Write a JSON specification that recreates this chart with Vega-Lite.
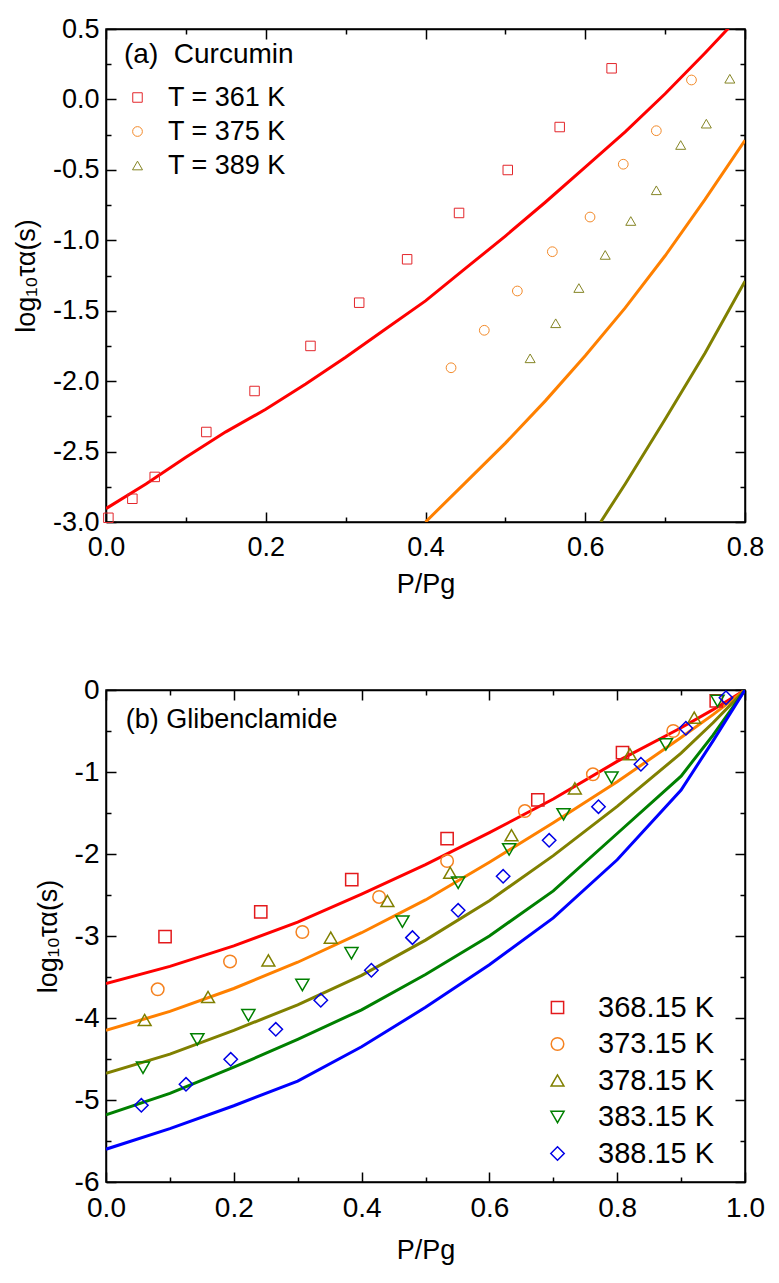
{
  "$schema": "https://vega.github.io/schema/vega-lite/v6.json",
  "background": "white",
  "padding": {"left": 11, "top": 14, "right": 5, "bottom": 5},
  "spacing": 77,
  "resolve": {"scale": {"color": "independent", "shape": "independent", "size": "independent"}},
  "datasets": {
    "fitA": [
      {"T": "T = 361 K", "x": 0, "y": -2.905}, {"T": "T = 361 K", "x": 0.05, "y": -2.73}, {"T": "T = 361 K", "x": 0.1, "y": -2.54},
      {"T": "T = 361 K", "x": 0.15, "y": -2.36}, {"T": "T = 361 K", "x": 0.2, "y": -2.2}, {"T": "T = 361 K", "x": 0.25, "y": -2.02},
      {"T": "T = 361 K", "x": 0.3, "y": -1.83}, {"T": "T = 361 K", "x": 0.35, "y": -1.63}, {"T": "T = 361 K", "x": 0.4, "y": -1.43},
      {"T": "T = 361 K", "x": 0.45, "y": -1.2}, {"T": "T = 361 K", "x": 0.5, "y": -0.97}, {"T": "T = 361 K", "x": 0.55, "y": -0.73},
      {"T": "T = 361 K", "x": 0.6, "y": -0.48}, {"T": "T = 361 K", "x": 0.65, "y": -0.23}, {"T": "T = 361 K", "x": 0.7, "y": 0.04},
      {"T": "T = 361 K", "x": 0.75, "y": 0.33}, {"T": "T = 361 K", "x": 0.78, "y": 0.51},
      {"T": "T = 375 K", "x": 0.4, "y": -3.0}, {"T": "T = 375 K", "x": 0.45, "y": -2.72}, {"T": "T = 375 K", "x": 0.5, "y": -2.44},
      {"T": "T = 375 K", "x": 0.55, "y": -2.14}, {"T": "T = 375 K", "x": 0.6, "y": -1.82}, {"T": "T = 375 K", "x": 0.65, "y": -1.48},
      {"T": "T = 375 K", "x": 0.7, "y": -1.11}, {"T": "T = 375 K", "x": 0.75, "y": -0.71}, {"T": "T = 375 K", "x": 0.8, "y": -0.29},
      {"T": "T = 389 K", "x": 0.6193, "y": -3.0}, {"T": "T = 389 K", "x": 0.65, "y": -2.73}, {"T": "T = 389 K", "x": 0.7, "y": -2.27},
      {"T": "T = 389 K", "x": 0.75, "y": -1.8}, {"T": "T = 389 K", "x": 0.8, "y": -1.29}
    ],
    "ptsA": [
      {"T": "T = 361 K", "x": 0.003, "y": -2.97}, {"T": "T = 361 K", "x": 0.033, "y": -2.835}, {"T": "T = 361 K", "x": 0.061, "y": -2.68},
      {"T": "T = 361 K", "x": 0.1256, "y": -2.361}, {"T": "T = 361 K", "x": 0.186, "y": -2.07}, {"T": "T = 361 K", "x": 0.256, "y": -1.75},
      {"T": "T = 361 K", "x": 0.317, "y": -1.443}, {"T": "T = 361 K", "x": 0.377, "y": -1.135}, {"T": "T = 361 K", "x": 0.442, "y": -0.806},
      {"T": "T = 361 K", "x": 0.503, "y": -0.501}, {"T": "T = 361 K", "x": 0.568, "y": -0.196}, {"T": "T = 361 K", "x": 0.633, "y": 0.221},
      {"T": "T = 375 K", "x": 0.432, "y": -1.905}, {"T": "T = 375 K", "x": 0.4736, "y": -1.639}, {"T": "T = 375 K", "x": 0.515, "y": -1.36},
      {"T": "T = 375 K", "x": 0.5588, "y": -1.081}, {"T": "T = 375 K", "x": 0.606, "y": -0.835}, {"T": "T = 375 K", "x": 0.6476, "y": -0.46},
      {"T": "T = 375 K", "x": 0.689, "y": -0.222}, {"T": "T = 375 K", "x": 0.733, "y": 0.138},
      {"T": "T = 389 K", "x": 0.531, "y": -1.838}, {"T": "T = 389 K", "x": 0.563, "y": -1.589}, {"T": "T = 389 K", "x": 0.592, "y": -1.339},
      {"T": "T = 389 K", "x": 0.625, "y": -1.104}, {"T": "T = 389 K", "x": 0.657, "y": -0.863}, {"T": "T = 389 K", "x": 0.689, "y": -0.645},
      {"T": "T = 389 K", "x": 0.7195, "y": -0.3235}, {"T": "T = 389 K", "x": 0.7516, "y": -0.172}, {"T": "T = 389 K", "x": 0.781, "y": 0.147}
    ],
    "fitB": [
      {"T": "368.15 K", "x": 0, "y": -3.58}, {"T": "368.15 K", "x": 0.1, "y": -3.37}, {"T": "368.15 K", "x": 0.2, "y": -3.12},
      {"T": "368.15 K", "x": 0.3, "y": -2.83}, {"T": "368.15 K", "x": 0.4, "y": -2.49}, {"T": "368.15 K", "x": 0.5, "y": -2.13},
      {"T": "368.15 K", "x": 0.6, "y": -1.74}, {"T": "368.15 K", "x": 0.7, "y": -1.33}, {"T": "368.15 K", "x": 0.8, "y": -0.87},
      {"T": "368.15 K", "x": 0.9, "y": -0.46}, {"T": "368.15 K", "x": 0.95, "y": -0.24}, {"T": "368.15 K", "x": 1.0, "y": 0},
      {"T": "373.15 K", "x": 0, "y": -4.15}, {"T": "373.15 K", "x": 0.1, "y": -3.92}, {"T": "373.15 K", "x": 0.2, "y": -3.64},
      {"T": "373.15 K", "x": 0.3, "y": -3.32}, {"T": "373.15 K", "x": 0.4, "y": -2.96}, {"T": "373.15 K", "x": 0.5, "y": -2.56},
      {"T": "373.15 K", "x": 0.6, "y": -2.1}, {"T": "373.15 K", "x": 0.7, "y": -1.62}, {"T": "373.15 K", "x": 0.8, "y": -1.12},
      {"T": "373.15 K", "x": 0.9, "y": -0.58}, {"T": "373.15 K", "x": 0.95, "y": -0.3}, {"T": "373.15 K", "x": 1.0, "y": 0},
      {"T": "378.15 K", "x": 0, "y": -4.675}, {"T": "378.15 K", "x": 0.1, "y": -4.44}, {"T": "378.15 K", "x": 0.2, "y": -4.15},
      {"T": "378.15 K", "x": 0.3, "y": -3.84}, {"T": "378.15 K", "x": 0.4, "y": -3.48}, {"T": "378.15 K", "x": 0.5, "y": -3.05},
      {"T": "378.15 K", "x": 0.6, "y": -2.57}, {"T": "378.15 K", "x": 0.7, "y": -2.02}, {"T": "378.15 K", "x": 0.8, "y": -1.42},
      {"T": "378.15 K", "x": 0.9, "y": -0.77}, {"T": "378.15 K", "x": 0.95, "y": -0.4}, {"T": "378.15 K", "x": 1.0, "y": 0},
      {"T": "383.15 K", "x": 0, "y": -5.18}, {"T": "383.15 K", "x": 0.1, "y": -4.92}, {"T": "383.15 K", "x": 0.2, "y": -4.6},
      {"T": "383.15 K", "x": 0.3, "y": -4.26}, {"T": "383.15 K", "x": 0.4, "y": -3.9}, {"T": "383.15 K", "x": 0.5, "y": -3.47},
      {"T": "383.15 K", "x": 0.6, "y": -3.0}, {"T": "383.15 K", "x": 0.7, "y": -2.45}, {"T": "383.15 K", "x": 0.8, "y": -1.75},
      {"T": "383.15 K", "x": 0.9, "y": -1.05}, {"T": "383.15 K", "x": 0.95, "y": -0.55}, {"T": "383.15 K", "x": 1.0, "y": 0},
      {"T": "388.15 K", "x": 0, "y": -5.6}, {"T": "388.15 K", "x": 0.1, "y": -5.35}, {"T": "388.15 K", "x": 0.2, "y": -5.07},
      {"T": "388.15 K", "x": 0.3, "y": -4.77}, {"T": "388.15 K", "x": 0.4, "y": -4.35}, {"T": "388.15 K", "x": 0.5, "y": -3.87},
      {"T": "388.15 K", "x": 0.6, "y": -3.35}, {"T": "388.15 K", "x": 0.7, "y": -2.78}, {"T": "388.15 K", "x": 0.8, "y": -2.07},
      {"T": "388.15 K", "x": 0.9, "y": -1.22}, {"T": "388.15 K", "x": 0.95, "y": -0.62}, {"T": "388.15 K", "x": 1.0, "y": 0}
    ],
    "ptsB": [
      {"T": "368.15 K", "x": 0.0924, "y": -3.008}, {"T": "368.15 K", "x": 0.2422, "y": -2.707}, {"T": "368.15 K", "x": 0.3846, "y": -2.313},
      {"T": "368.15 K", "x": 0.5338, "y": -1.813}, {"T": "368.15 K", "x": 0.6758, "y": -1.341}, {"T": "368.15 K", "x": 0.8083, "y": -0.764},
      {"T": "368.15 K", "x": 0.955, "y": -0.134},
      {"T": "373.15 K", "x": 0.0809, "y": -3.65}, {"T": "373.15 K", "x": 0.1941, "y": -3.31}, {"T": "373.15 K", "x": 0.3073, "y": -2.951},
      {"T": "373.15 K", "x": 0.4274, "y": -2.524}, {"T": "373.15 K", "x": 0.5338, "y": -2.085}, {"T": "373.15 K", "x": 0.6555, "y": -1.476},
      {"T": "373.15 K", "x": 0.762, "y": -1.028}, {"T": "373.15 K", "x": 0.8877, "y": -0.5},
      {"T": "378.15 K", "x": 0.0605, "y": -4.024}, {"T": "378.15 K", "x": 0.1597, "y": -3.744}, {"T": "378.15 K", "x": 0.2541, "y": -3.297},
      {"T": "378.15 K", "x": 0.3517, "y": -3.02}, {"T": "378.15 K", "x": 0.4404, "y": -2.573}, {"T": "378.15 K", "x": 0.5386, "y": -2.228},
      {"T": "378.15 K", "x": 0.6346, "y": -1.772}, {"T": "378.15 K", "x": 0.7337, "y": -1.2}, {"T": "378.15 K", "x": 0.8199, "y": -0.784},
      {"T": "378.15 K", "x": 0.9205, "y": -0.337},
      {"T": "383.15 K", "x": 0.0579, "y": -4.606}, {"T": "383.15 K", "x": 0.143, "y": -4.26}, {"T": "383.15 K", "x": 0.2228, "y": -3.967},
      {"T": "383.15 K", "x": 0.3073, "y": -3.598}, {"T": "383.15 K", "x": 0.3841, "y": -3.211}, {"T": "383.15 K", "x": 0.4639, "y": -2.824},
      {"T": "383.15 K", "x": 0.5511, "y": -2.35}, {"T": "383.15 K", "x": 0.6309, "y": -1.943}, {"T": "383.15 K", "x": 0.716, "y": -1.516},
      {"T": "383.15 K", "x": 0.7911, "y": -1.069}, {"T": "383.15 K", "x": 0.8762, "y": -0.663}, {"T": "383.15 K", "x": 0.957, "y": -0.134},
      {"T": "388.15 K", "x": 0.0553, "y": -5.065}, {"T": "388.15 K", "x": 0.1252, "y": -4.809}, {"T": "388.15 K", "x": 0.1952, "y": -4.504},
      {"T": "388.15 K", "x": 0.2657, "y": -4.138}, {"T": "388.15 K", "x": 0.3361, "y": -3.784}, {"T": "388.15 K", "x": 0.4153, "y": -3.418},
      {"T": "388.15 K", "x": 0.4796, "y": -3.02}, {"T": "388.15 K", "x": 0.5511, "y": -2.687}, {"T": "388.15 K", "x": 0.6215, "y": -2.272},
      {"T": "388.15 K", "x": 0.6935, "y": -1.833}, {"T": "388.15 K", "x": 0.7707, "y": -1.423}, {"T": "388.15 K", "x": 0.8371, "y": -0.906},
      {"T": "388.15 K", "x": 0.9075, "y": -0.467}, {"T": "388.15 K", "x": 0.9702, "y": -0.094}
    ],
    "labelB": [{"label": "(b) Glibenclamide"}]
  },
  "vconcat": [
    {
      "width": 639,
      "height": 493,
      "layer": [
        {
          "data": {"name": "fitA"},
          "mark": {"type": "line", "strokeWidth": 3, "clip": true},
          "encoding": {
            "x": {
              "field": "x", "type": "quantitative",
              "scale": {"domain": [0, 0.8], "nice": false, "zero": false},
              "axis": {
                "orient": "bottom",
                "values": [0, 0.1, 0.2, 0.3, 0.4, 0.5, 0.6, 0.7, 0.8],
                "tickSize": {"condition": {"test": "abs(datum.value*5-round(datum.value*5))<0.001", "value": -10}, "value": -5},
                "labelExpr": "abs(datum.value*5-round(datum.value*5))<0.001 ? format(datum.value,'.1f') : ''",
                "labelPadding": 22,
                "title": "P/Pg",
                "titlePadding": 6
              }
            },
            "y": {
              "field": "y", "type": "quantitative",
              "scale": {"domain": [-3, 0.5], "nice": false, "zero": false},
              "axis": {
                "orient": "left",
                "values": [-3, -2.75, -2.5, -2.25, -2, -1.75, -1.5, -1.25, -1, -0.75, -0.5, -0.25, 0, 0.25, 0.5],
                "tickSize": {"condition": {"test": "abs(datum.value*2-round(datum.value*2))<0.001", "value": -10}, "value": -5},
                "labelExpr": "abs(datum.value*2-round(datum.value*2))<0.001 ? replace(format(datum.value,'.1f'),'−','-') : ''",
                "labelPadding": 17,
                "title": "log₁₀τα(s)",
                "titlePadding": 12
              }
            },
            "color": {
              "field": "T", "type": "nominal",
              "scale": {"domain": ["T = 361 K", "T = 375 K", "T = 389 K"], "range": ["#FF0000", "#FF8000", "#808000"]},
              "legend": null
            }
          }
        },
        {
          "data": {"name": "ptsA"},
          "mark": {"type": "point", "filled": false, "strokeWidth": 1, "opacity": 1},
          "encoding": {
            "x": {
              "field": "x", "type": "quantitative",
              "axis": {
                "orient": "top",
                "values": [0, 0.1, 0.2, 0.3, 0.4, 0.5, 0.6, 0.7, 0.8],
                "tickSize": {"condition": {"test": "abs(datum.value*5-round(datum.value*5))<0.001", "value": -10}, "value": -5},
                "labels": false,
                "title": null
              }
            },
            "y": {
              "field": "y", "type": "quantitative",
              "axis": {
                "orient": "right",
                "values": [-3, -2.75, -2.5, -2.25, -2, -1.75, -1.5, -1.25, -1, -0.75, -0.5, -0.25, 0, 0.25, 0.5],
                "tickSize": {"condition": {"test": "abs(datum.value*2-round(datum.value*2))<0.001", "value": -10}, "value": -5},
                "labels": false,
                "title": null
              }
            },
            "color": {
              "field": "T", "type": "nominal",
              "scale": {"domain": ["T = 361 K", "T = 375 K", "T = 389 K"], "range": ["#E3262B", "#F38A2A", "#858525"]},
              "legend": {"title": "(a)\u00a0 Curcumin", "orient": "none", "legendX": 18, "legendY": 12, "padding": 0, "titleFontSize": 28, "titleFontWeight": "normal", "titleColor": "black", "labelFontSize": 27, "labelColor": "black", "symbolStrokeWidth": 1, "rowPadding": 6, "labelOffset": 17, "titlePadding": 15, "symbolOffset": 0}
            },
            "shape": {
              "field": "T", "type": "nominal",
              "scale": {"domain": ["T = 361 K", "T = 375 K", "T = 389 K"], "range": ["square", "circle", "triangle-up"]},
              "legend": {"title": "(a)\u00a0 Curcumin", "orient": "none", "legendX": 18, "legendY": 12, "padding": 0, "titleFontSize": 28, "titleFontWeight": "normal", "titleColor": "black", "labelFontSize": 27, "labelColor": "black", "symbolStrokeWidth": 1, "rowPadding": 6, "labelOffset": 17, "titlePadding": 15, "symbolOffset": 0}
            },
            "size": {
              "field": "T", "type": "nominal",
              "scale": {"domain": ["T = 361 K", "T = 375 K", "T = 389 K"], "range": [90, 100, 150]},
              "legend": {"title": "(a)\u00a0 Curcumin", "orient": "none", "legendX": 18, "legendY": 12, "padding": 0, "titleFontSize": 28, "titleFontWeight": "normal", "titleColor": "black", "labelFontSize": 27, "labelColor": "black", "symbolStrokeWidth": 1, "rowPadding": 6, "labelOffset": 17, "titlePadding": 15, "symbolOffset": 0}
            }
          }
        }
      ],
      "resolve": {"axis": {"x": "independent", "y": "independent"}, "scale": {"color": "independent", "shape": "independent", "size": "independent"}}
    },
    {
      "width": 639,
      "height": 492,
      "layer": [
        {
          "data": {"name": "fitB"},
          "mark": {"type": "line", "strokeWidth": 3, "clip": true},
          "encoding": {
            "x": {
              "field": "x", "type": "quantitative",
              "scale": {"domain": [0, 1], "nice": false, "zero": false},
              "axis": {
                "orient": "bottom",
                "values": [0, 0.1, 0.2, 0.3, 0.4, 0.5, 0.6, 0.7, 0.8, 0.9, 1.0],
                "tickSize": {"condition": {"test": "abs(datum.value*5-round(datum.value*5))<0.001", "value": -10}, "value": -5},
                "labelExpr": "abs(datum.value*5-round(datum.value*5))<0.001 ? format(datum.value,'.1f') : ''",
                "labelPadding": 22,
                "labelFontSize": 28,
                "title": "P/Pg",
                "titlePadding": 10
              }
            },
            "y": {
              "field": "y", "type": "quantitative",
              "scale": {"domain": [-6, 0], "nice": false, "zero": false},
              "axis": {
                "orient": "left",
                "values": [-6, -5.5, -5, -4.5, -4, -3.5, -3, -2.5, -2, -1.5, -1, -0.5, 0],
                "tickSize": {"condition": {"test": "abs(datum.value-round(datum.value))<0.001", "value": -10}, "value": -5},
                "labelExpr": "abs(datum.value-round(datum.value))<0.001 ? replace(format(datum.value,'d'),'−','-') : ''",
                "labelPadding": 17,
                "labelFontSize": 28,
                "title": "log₁₀τα(s)",
                "titlePadding": 12
              }
            },
            "color": {
              "field": "T", "type": "nominal",
              "scale": {"domain": ["368.15 K", "373.15 K", "378.15 K", "383.15 K", "388.15 K"], "range": ["#FF0000", "#FF8000", "#808000", "#008000", "#0000FF"]},
              "legend": null
            }
          }
        },
        {
          "data": {"name": "ptsB"},
          "mark": {"type": "point", "filled": false, "strokeWidth": 1.5, "opacity": 1},
          "encoding": {
            "x": {
              "field": "x", "type": "quantitative",
              "axis": {
                "orient": "top",
                "values": [0, 0.1, 0.2, 0.3, 0.4, 0.5, 0.6, 0.7, 0.8, 0.9, 1.0],
                "tickSize": {"condition": {"test": "abs(datum.value*5-round(datum.value*5))<0.001", "value": -10}, "value": -5},
                "labels": false,
                "title": null
              }
            },
            "y": {
              "field": "y", "type": "quantitative",
              "axis": {
                "orient": "right",
                "values": [-6, -5.5, -5, -4.5, -4, -3.5, -3, -2.5, -2, -1.5, -1, -0.5, 0],
                "tickSize": {"condition": {"test": "abs(datum.value-round(datum.value))<0.001", "value": -10}, "value": -5},
                "labels": false,
                "title": null
              }
            },
            "color": {
              "field": "T", "type": "nominal",
              "scale": {"domain": ["368.15 K", "373.15 K", "378.15 K", "383.15 K", "388.15 K"], "range": ["#E31A1C", "#F58220", "#808000", "#008000", "#0000E6"]},
              "legend": {"title": null, "orient": "none", "legendX": 437, "legendY": 303, "padding": 0, "labelFontSize": 29, "labelColor": "black", "symbolStrokeWidth": 1.5, "rowPadding": 6.5, "labelOffset": 26}
            },
            "shape": {
              "field": "T", "type": "nominal",
              "scale": {"domain": ["368.15 K", "373.15 K", "378.15 K", "383.15 K", "388.15 K"], "range": ["square", "circle", "triangle-up", "triangle-down", "diamond"]},
              "legend": {"title": null, "orient": "none", "legendX": 437, "legendY": 303, "padding": 0, "labelFontSize": 29, "labelColor": "black", "symbolStrokeWidth": 1.5, "rowPadding": 6.5, "labelOffset": 26}
            },
            "size": {
              "field": "T", "type": "nominal",
              "scale": {"domain": ["368.15 K", "373.15 K", "378.15 K", "383.15 K", "388.15 K"], "range": [150, 180, 230, 230, 240]},
              "legend": {"title": null, "orient": "none", "legendX": 437, "legendY": 303, "padding": 0, "labelFontSize": 29, "labelColor": "black", "symbolStrokeWidth": 1.5, "rowPadding": 6.5, "labelOffset": 26}
            }
          }
        },
        {
          "data": {"name": "labelB"},
          "mark": {"type": "text", "align": "left", "baseline": "middle", "fontSize": 27, "color": "black"},
          "encoding": {
            "x": {"datum": 0.031, "type": "quantitative", "axis": null},
            "y": {"datum": -0.366, "type": "quantitative", "axis": null},
            "text": {"field": "label", "type": "nominal"}
          }
        }
      ],
      "resolve": {"axis": {"x": "independent", "y": "independent"}, "scale": {"color": "independent", "shape": "independent", "size": "independent"}}
    }
  ],
  "config": {
    "font": "Liberation Sans",
    "view": {"stroke": "black", "strokeWidth": 1.5},
    "axis": {
      "grid": false,
      "domain": true,
      "domainColor": "black",
      "domainWidth": 1.5,
      "tickColor": "black",
      "tickWidth": 1.5,
      "labelFont": "Liberation Sans",
      "labelFontSize": 27,
      "labelColor": "black",
      "labelFlush": false,
      "labelOverlap": false,
      "titleFont": "Liberation Sans",
      "titleFontSize": 27,
      "titleFontWeight": "normal",
      "titleColor": "black"
    },
    "legend": {
      "labelFont": "Liberation Sans",
      "titleFont": "Liberation Sans"
    },
    "text": {"font": "Liberation Sans"}
  }
}
